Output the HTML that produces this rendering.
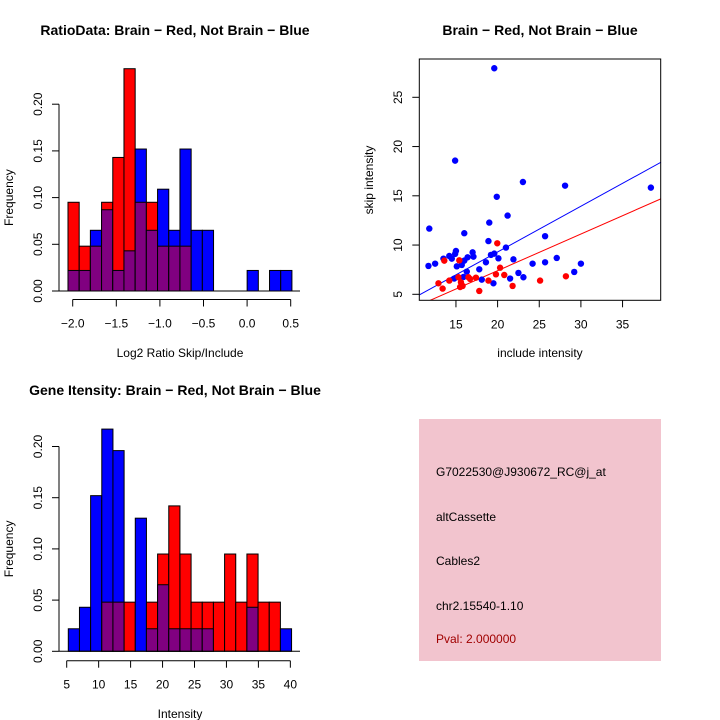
<!DOCTYPE html>
<html><head><meta charset="utf-8"><style>
body{margin:0;background:#fff}
svg{display:block;font-family:"Liberation Sans",sans-serif}
</style></head><body>
<svg id="c" width="720" height="720" viewBox="0 0 720 720">
<rect width="720" height="720" fill="#fff"/>
<g id="p1"></g>
<g id="p2"></g>
<g id="p3"></g>
<g id="p4">
<rect x="419" y="419" width="242" height="242" fill="#f2c4ce"/>
<g font-size="12" fill="#000">
<text x="436" y="476">G7022530@J930672_RC@j_at</text>
<text x="436" y="521">altCassette</text>
<text x="436" y="565">Cables2</text>
<text x="436" y="610">chr2.15540-1.10</text>
<text x="436" y="643" fill="#a00000">Pval: 2.000000</text>
</g></g>
</svg>
<script>
// Histogram 1 data
const ratioRed=[0.095,0.048,0.048,0.095,0.143,0.238,0.095,0.095,0.048,0.048,0.048,0,0,0,0,0,0,0,0,0];
const ratioBlue=[0.022,0.022,0.065,0.087,0.022,0.043,0.152,0.065,0.109,0.065,0.152,0.065,0.065,0,0,0,0.022,0,0.022,0.022];
const ratioXTicks=["-2.0","-1.5","-1.0","-0.5","0.0","0.5"];
const ratioXTickVals=[-2,-1.5,-1,-0.5,0,0.5];
const freqTicks=["0.00","0.05","0.10","0.15","0.20"];
const freqTickVals=[0,0.05,0.1,0.15,0.2];
// Histogram 2 data
const intRed=[0,0,0,0.048,0.048,0.048,0,0.048,0.095,0.142,0.095,0.048,0.048,0.048,0.095,0.048,0.095,0.048,0.048,0];
const intBlue=[0.022,0.043,0.152,0.217,0.196,0,0.130,0.022,0.065,0.022,0.022,0.022,0.022,0,0,0,0.043,0,0,0.022];
const intXTickVals=[5,10,15,20,25,30,35,40];
// Scatter data
const blueX=[19.6,14.9,23.04,28.1,38.4,19.9,21.2,19.0,11.8,16.0,25.7,18.9,21.0,15.0,17.0,14.9,19.6,19.2,14.2,17.1,16.4,13.5,14.5,20.1,21.9,27.1,16.0,18.6,25.7,12.5,24.2,30.0,15.1,15.7,11.7,17.8,16.3,22.5,29.2,23.1,15.9,21.5,14.8,18.1,19.5];
const blueY=[27.95,18.57,16.4,16.03,15.83,14.9,12.99,12.28,11.67,11.2,10.9,10.4,9.74,9.4,9.26,9.1,9.13,9.0,8.89,8.82,8.76,8.62,8.62,8.65,8.55,8.69,8.42,8.25,8.25,8.11,8.11,8.11,7.84,7.98,7.88,7.54,7.3,7.17,7.27,6.73,6.76,6.6,6.6,6.49,6.12];
const redX=[13.6,15.4,19.96,20.3,19.8,20.8,28.2,17.4,16.5,15.3,16.7,12.9,14.2,18.9,25.1,15.6,13.4,15.5,15.8,21.8,17.8];
const redY=[8.42,8.45,10.18,7.7,7.03,6.96,6.83,6.69,6.73,6.73,6.56,6.12,6.39,6.39,6.39,6.22,5.58,5.74,5.85,5.85,5.34];
const blueFit=[0.006,0.4645];
const redFit=[-0.04,0.372];
const scXTicks=[15,20,25,30,35];
const scYTicks=[5,10,15,20,25];

const NS="http://www.w3.org/2000/svg";
function mk(parent,tag,attrs,text){const e=document.createElementNS(NS,tag);for(const k in attrs)e.setAttribute(k,attrs[k]);if(text!==undefined)e.textContent=text;parent.appendChild(e);return e;}

function hist(g,red,blue,binStart,binW,xs,ys,xTickVals,xTickLabels,yAxisX,y0,yTop,xAxisY,title,titleY,xlab,xlabY){
  for(let i=0;i<red.length;i++){
    const x0=xs(binStart+i*binW),x1=xs(binStart+(i+1)*binW);
    const r=red[i],b=blue[i],mx=Math.max(r,b),mn=Math.min(r,b);
    if(mx>0){
      const el=mk(g,'rect',{x:x0,y:ys(mx),width:x1-x0,height:ys(0)-ys(mx),fill:r>=b?'#ff0000':'#0000ff',stroke:'#000','stroke-width':1});
      
      
    }
    if(mn>0){
      const el=mk(g,'rect',{x:x0,y:ys(mn),width:x1-x0,height:ys(0)-ys(mn),fill:'#800080',stroke:'#000','stroke-width':1});
      
      
    }
  }
  mk(g,'line',{x1:yAxisX,x2:300,y1:ys(0),y2:ys(0),stroke:'#000'});
  // y axis
  mk(g,'line',{x1:yAxisX,x2:yAxisX,y1:ys(0),y2:ys(0.2),stroke:'#000'});
  freqTickVals.forEach((v,i)=>{const y=ys(v);mk(g,'line',{x1:yAxisX-7,x2:yAxisX,y1:y,y2:y,stroke:'#000'});
    const t=mk(g,'text',{x:42,y:y,'font-size':12,'text-anchor':'middle',transform:`rotate(-90 42 ${y})`},freqTicks[i]);
    
    });
  // x axis
  mk(g,'line',{x1:xs(xTickVals[0]),x2:xs(xTickVals[xTickVals.length-1]),y1:xAxisY,y2:xAxisY,stroke:'#000'});
  xTickVals.forEach((v,i)=>{const x=xs(v);mk(g,'line',{x1:x,x2:x,y1:xAxisY,y2:xAxisY+7,stroke:'#000'});
    const t=mk(g,'text',{x:x,y:xAxisY+28,'font-size':12,'text-anchor':'middle'},xTickLabels[i].replace('-','\u2212'));
    
    });
  const tt=mk(g,'text',{x:175,y:titleY,'font-size':14,'font-weight':'bold','text-anchor':'middle'},title);
  
  
  const xl=mk(g,'text',{x:180,y:xlabY,'font-size':12,'text-anchor':'middle'},xlab);
  
  
  const yc=(ys(0)+ys(0.2))/2;
  const yl=mk(g,'text',{x:13,y:yc,'font-size':12,'text-anchor':'middle',transform:`rotate(-90 13 ${yc})`},'Frequency');
  
  
}

// plot 1
{
  const g=document.getElementById('p1');
  const xs=v=>72.7+(v+2)*87.2, ys=v=>291-v/0.05*46.7;
  hist(g,ratioRed,ratioBlue,-2.054,0.1284,xs,ys,ratioXTickVals,ratioXTicks,59,0,0,299.5,
    'RatioData: Brain \u2212 Red, Not Brain \u2212 Blue',35,'Log2 Ratio Skip/Include',357);
}
// plot 3
{
  const g=document.getElementById('p3');
  const xs=v=>66.7+(v-5)*6.39, ys=v=>651.3-v/0.05*51.2;
  hist(g,intRed,intBlue,5.25,1.747,xs,ys,intXTickVals,intXTickVals.map(String),59,0,0,660.7,
    'Gene Itensity: Brain \u2212 Red, Not Brain \u2212 Blue',395,'Intensity',718);
}
// scatter
{
  const g=document.getElementById('p2');
  const xs=v=>414.3+(v-10)*8.33, ys=v=>294.3-(v-5)*9.85;
  const L=419.3,R=660.7,T=59,B=300.3;
  const cp=mk(g,'clipPath',{id:'clip'});mk(cp,'rect',{x:L,y:T,width:R-L,height:B-T});
  const lg=mk(g,'g',{'clip-path':'url(#clip)'});
  const xa=10.6,xb=39.6;
  const bl=mk(lg,'line',{x1:xs(xa),y1:ys(blueFit[0]+blueFit[1]*xa),x2:xs(xb),y2:ys(blueFit[0]+blueFit[1]*xb),stroke:'#0000ff'});
  
  
  const rl=mk(lg,'line',{x1:xs(xa),y1:ys(redFit[0]+redFit[1]*xa),x2:xs(xb),y2:ys(redFit[0]+redFit[1]*xb),stroke:'#ff0000'});
  
  
  blueX.forEach((x,i)=>{const c=mk(lg,'circle',{cx:xs(x),cy:ys(blueY[i]),r:3.2,fill:'#0000ff'});
    
    });
  redX.forEach((x,i)=>{const c=mk(lg,'circle',{cx:xs(x),cy:ys(redY[i]),r:3.2,fill:'#ff0000'});
    
    });
  mk(g,'rect',{x:L,y:T,width:R-L,height:B-T,fill:'none',stroke:'#000'});
  scXTicks.forEach(v=>{const x=xs(v);mk(g,'line',{x1:x,x2:x,y1:B,y2:B+7,stroke:'#000'});
    const t=mk(g,'text',{x:x,y:B+28,'font-size':12,'text-anchor':'middle'},String(v));
    
    });
  scYTicks.forEach(v=>{const y=ys(v);mk(g,'line',{x1:L-7,x2:L,y1:y,y2:y,stroke:'#000'});
    const t=mk(g,'text',{x:402,y:y,'font-size':12,'text-anchor':'middle',transform:`rotate(-90 402 ${y})`},String(v));
    
    });
  const tt=mk(g,'text',{x:540,y:35,'font-size':14,'font-weight':'bold','text-anchor':'middle'},'Brain \u2212 Red, Not Brain \u2212 Blue');
  
  
  const xl=mk(g,'text',{x:540,y:357,'font-size':12,'text-anchor':'middle'},'include intensity');
  
  
  const yl=mk(g,'text',{x:373,y:180,'font-size':12,'text-anchor':'middle',transform:'rotate(-90 373 180)'},'skip intensity');
  
  
}
</script>
</body></html>
